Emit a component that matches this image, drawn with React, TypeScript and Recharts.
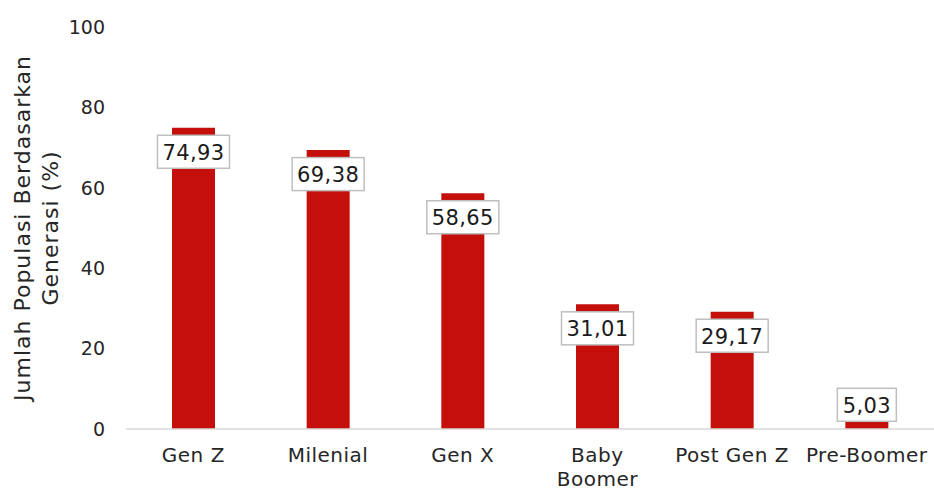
import { BarChart, Bar, XAxis, YAxis, LabelList } from 'recharts'

const categories = ['Gen Z', 'Milenial', 'Gen X', 'Baby Boomer', 'Post Gen Z', 'Pre-Boomer']
const values = [74.93, 69.38, 58.65, 31.01, 29.17, 5.03]
const yTicks = [0, 20, 40, 60, 80, 100]
const wrapped = ['Baby Boomer']

const data = categories.map((name, i) => ({ name, value: values[i] }))

const font = '"DejaVu Sans", sans-serif'

function CategoryTick(props: any) {
  const { x, y, payload } = props
  const label: string = payload.value
  const lines = wrapped.includes(label) ? label.split(' ') : [label]
  return (
    <text x={x} y={y} textAnchor="middle" fill="#262626" fontSize={20} letterSpacing={0.5} fontFamily={font}>
      {lines.map((l, i) => (
        <tspan key={i} x={x} dy={i === 0 ? 25 : 24}>{l}</tspan>
      ))}
    </text>
  )
}

function ValueLabel(props: any) {
  const { x, y, width, height, value } = props
  const text = Number(value).toFixed(2).replace('.', ',')
  const w = text.length * 13 + 7
  const h = 33
  const cx = x + width / 2
  const cy = height > 50 ? y + 24 : y - 4
  return (
    <g>
      <rect x={cx - w / 2} y={cy - h / 2} width={w} height={h} fill="#ffffff" stroke="#BFBFBF" strokeWidth={1.5} />
      <text x={cx} y={cy + 8} textAnchor="middle" fill="#1a1a1a" fontSize={21} letterSpacing={0.4} fontFamily={font}>{text}</text>
    </g>
  )
}

export default function App() {
  return (
    <div style={{ position: 'absolute', left: 0, top: 0, width: 934, height: 491, background: '#fff' }}>
      <BarChart width={934} height={491} data={data} margin={{ top: 27, right: 0, left: 0, bottom: 0 }} barSize={43}>
        <XAxis
          dataKey="name"
          height={62}
          tick={<CategoryTick />}
          tickLine={false}
          axisLine={{ stroke: '#D9D9D9', strokeWidth: 1.5 }}
          interval={0}
        />
        <YAxis
          width={126}
          domain={[0, 100]}
          ticks={yTicks}
          axisLine={false}
          tickLine={false}
          tickSize={0}
          tickMargin={21}
          tick={{ fill: '#262626', fontSize: 19, fontFamily: font }}
        />
        <Bar dataKey="value" fill="#C50F0B" isAnimationActive={false}>
          <LabelList dataKey="value" content={<ValueLabel />} />
        </Bar>
        <text transform="translate(30,228) rotate(-90)" textAnchor="middle" fill="#262626" fontSize={22} letterSpacing={1} fontFamily={font}>
          <tspan x={0} dy={0}>Jumlah Populasi Berdasarkan</tspan>
          <tspan x={0} dy={28}>Generasi (%)</tspan>
        </text>
      </BarChart>
    </div>
  )
}
